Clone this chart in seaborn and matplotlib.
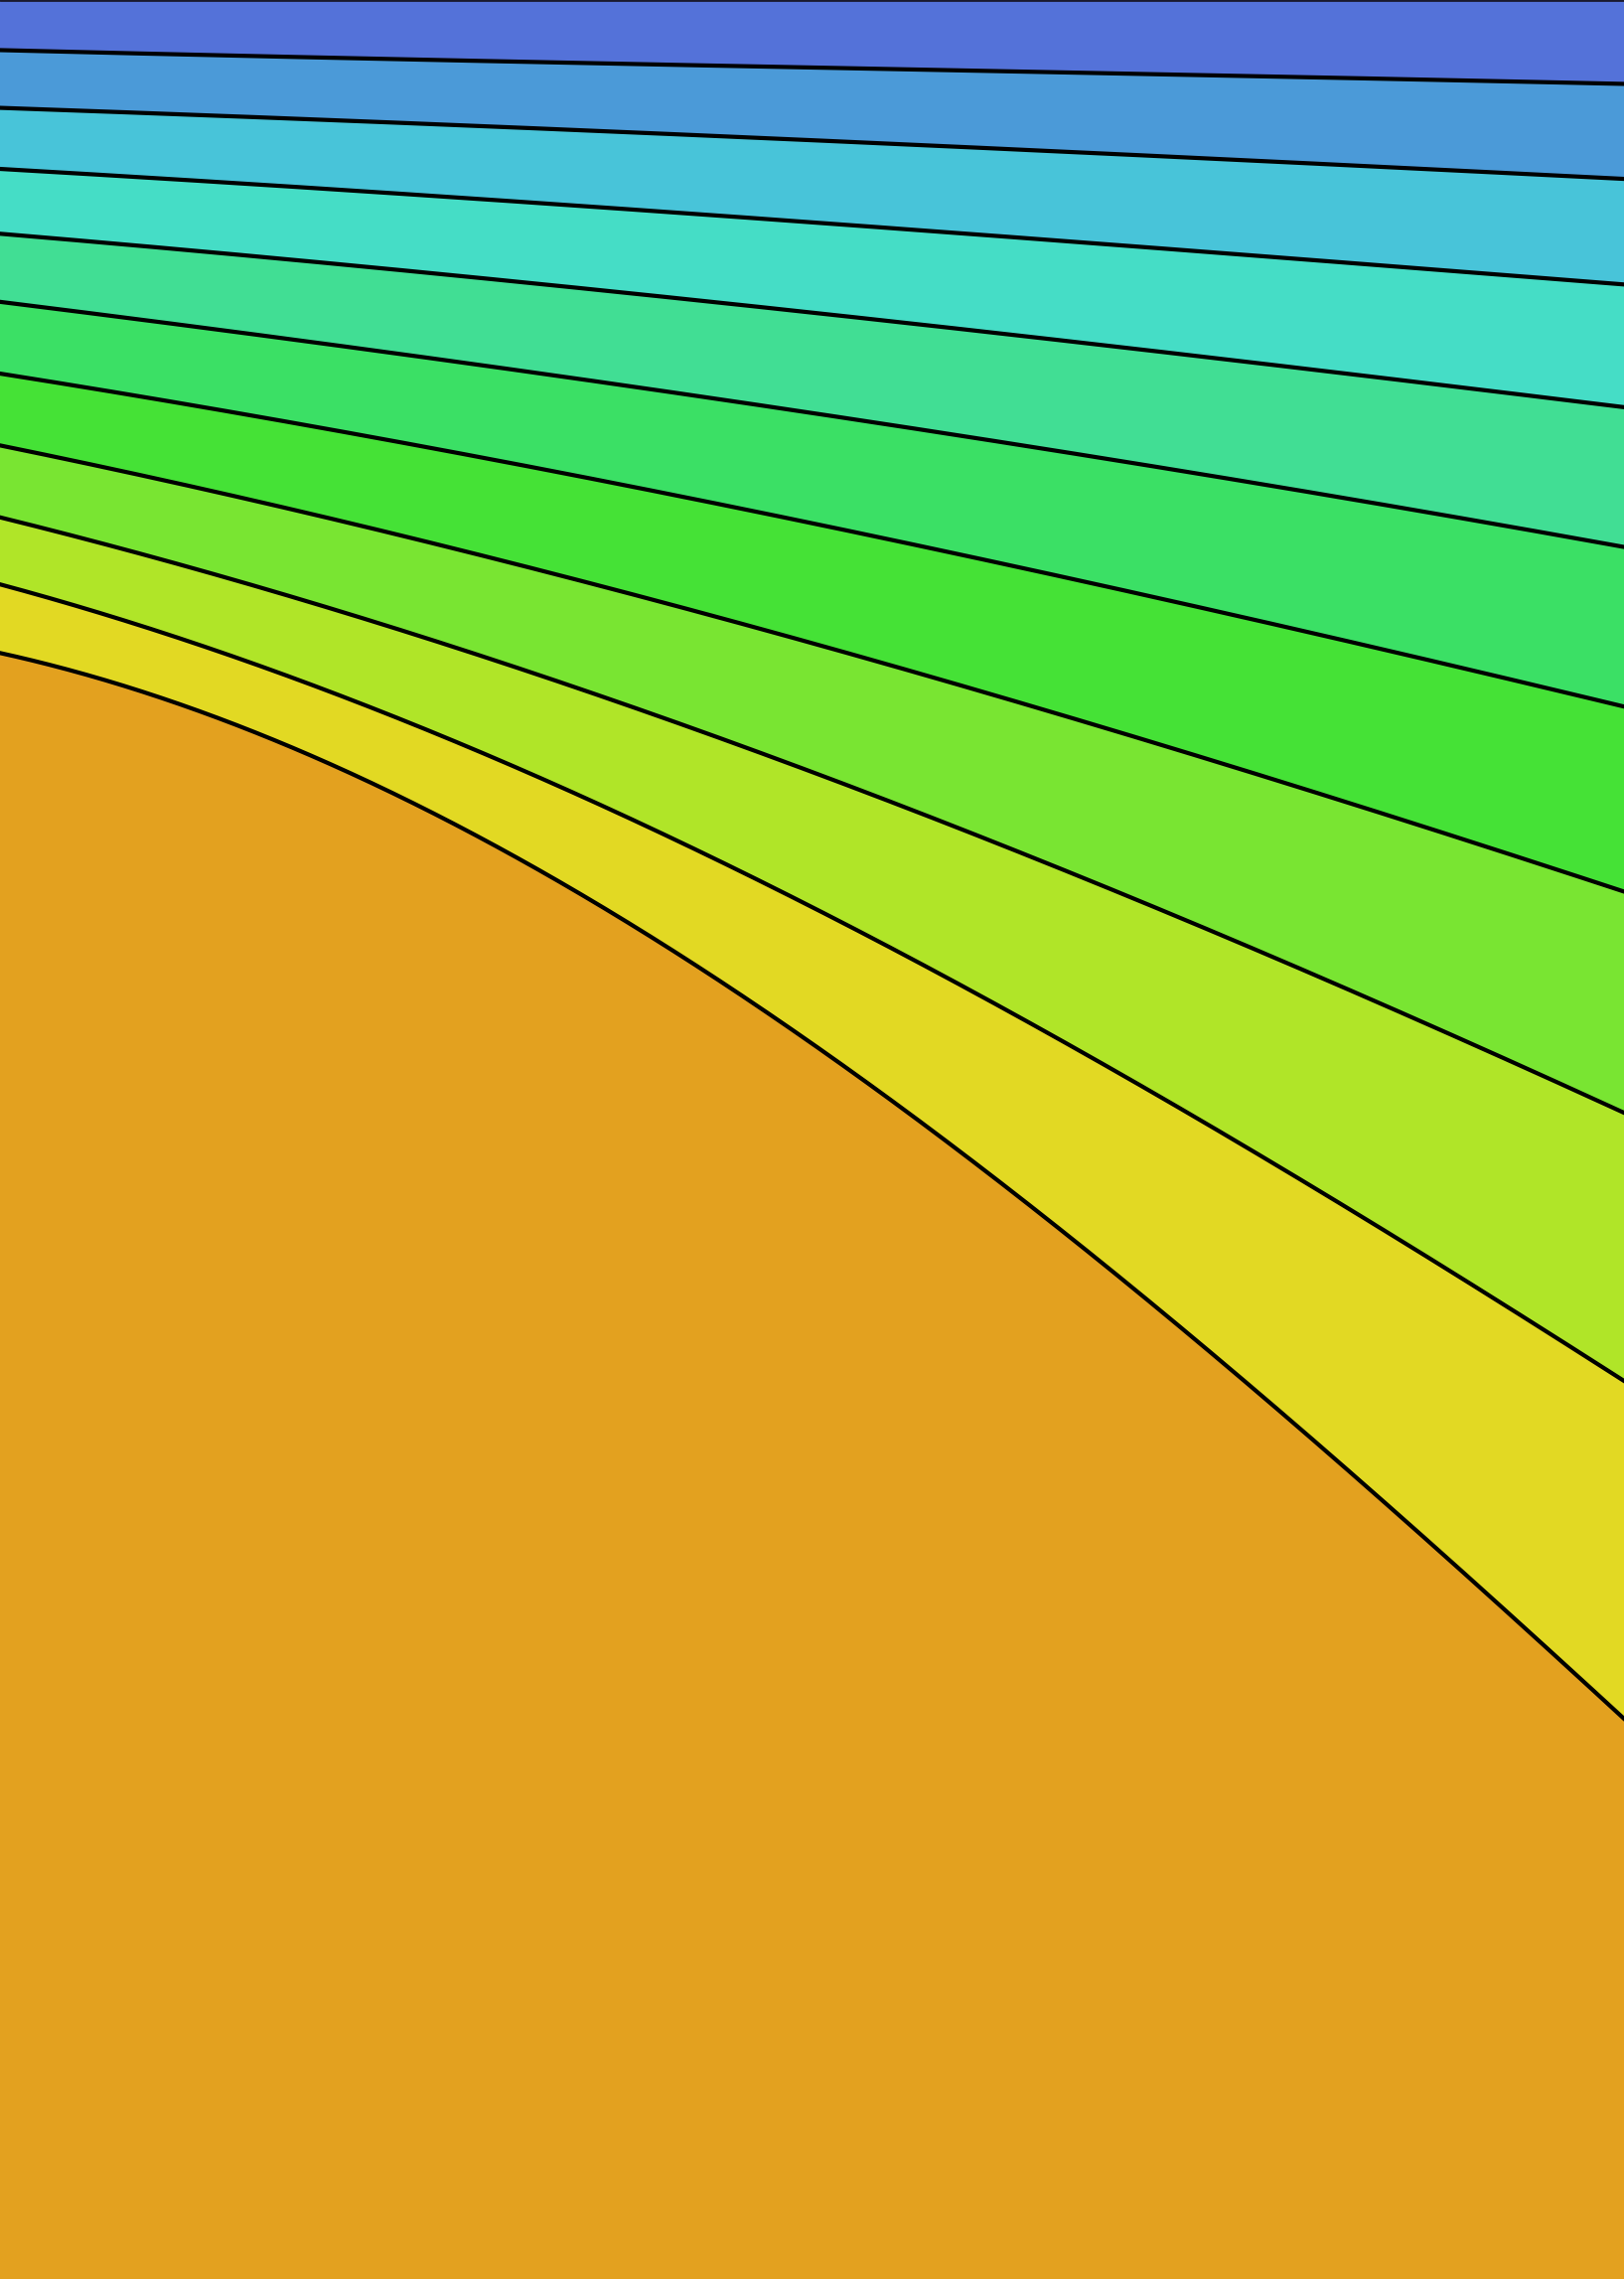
import numpy as np
import pandas as pd
import seaborn as sns
import matplotlib
matplotlib.use("Agg")
import matplotlib.pyplot as plt

# distance along the section, and depth of each of the 10 contour lines at that distance
distance = [0, 204, 409, 614, 780, 900, 1022, 1227, 1431, 1635]
contour_depths = {
    "c01": [50.5, 55.5, 59.3, 63.8, 66.6, 70.4, 73.0, 75.5, 79.1, 85.0],
    "c02": [108.8, 116.0, 123.0, 132.0, 140.0, 145.4, 151.0, 160.2, 168.0, 181.0],
    "c03": [169.9, 183.0, 194.5, 208.5, 222.0, 229.6, 240.0, 254.5, 268.9, 287.0],
    "c04": [235.0, 254.0, 272.0, 292.0, 311.5, 323.7, 337.8, 360.5, 384.9, 410.0],
    "c05": [304.0, 330.0, 356.0, 386.0, 411.0, 428.6, 447.0, 480.0, 513.9, 551.0],
    "c06": [376.5, 409.4, 445.0, 486.0, 520.0, 543.4, 571.0, 615.5, 661.3, 712.0],
    "c07": [449.0, 491.0, 540.0, 593.0, 637.0, 671.0, 706.0, 767.3, 830.4, 898.0],
    "c08": [521.0, 575.0, 634.6, 703.4, 764.0, 809.0, 857.0, 939.5, 1026.7, 1121.0],
    "c09": [589.0, 649.0, 725.8, 815.0, 894.0, 957.0, 1022.0, 1138.0, 1259.8, 1391.0],
    "c10": [659.0, 714.0, 805.0, 918.0, 1025.0, 1110.0, 1204.0, 1367.5, 1541.6, 1732.0],
}
top_depth = 0
bottom_depth = 2294

band_colors = ["#5472D9", "#4B9AD8", "#48C4D9", "#45DDC6", "#41DE94", "#3BE065",
               "#45E236", "#79E532", "#B0E528", "#E2D923", "#E3A11F"]

sns.set_theme(style="white")
palette = sns.color_palette(band_colors)

fig = plt.figure(figsize=(16.35, 22.94), dpi=100)
ax = fig.add_axes([0, 0, 1, 1])

# smooth each contour through its read points (a little past the edges so the fill reaches them)
names = list(contour_depths.keys())
xx = np.linspace(distance[0] - 20, distance[-1] + 20, 800)
curves = [np.polyval(np.polyfit(distance, contour_depths[n], 3), xx) for n in names]
bounds = [np.full_like(xx, top_depth)] + curves + [np.full_like(xx, bottom_depth + 20)]

# filled bands between consecutive contour lines
for i in range(len(bounds) - 1):
    ax.fill_between(xx, bounds[i], bounds[i + 1], color=palette[i],
                    linewidth=0, antialiased=False)

# contour lines
df = pd.concat([
    pd.DataFrame({"distance": xx, "depth": cy, "line": n})
    for n, cy in zip(names, curves)
])
sns.lineplot(data=df, x="distance", y="depth", units="line", estimator=None,
             sort=False, color="black", linewidth=3.0, ax=ax, legend=False)
ax.axhline(top_depth, color="#1a1a2e", linewidth=2.0)

ax.set_xlim(distance[0], distance[-1])
ax.set_ylim(bottom_depth, top_depth)
ax.axis("off")

fig.savefig("out.png", dpi=100)
